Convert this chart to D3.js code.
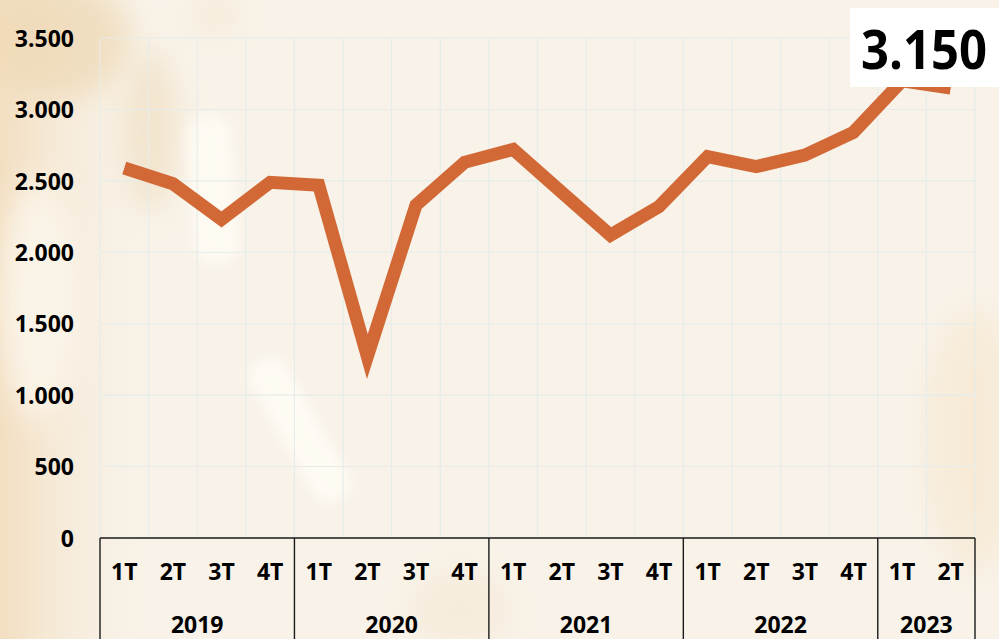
<!DOCTYPE html>
<html>
<head>
<meta charset="utf-8">
<script src="https://cdn.jsdelivr.net/npm/d3@7"></script>
<style>
  html, body { margin: 0; padding: 0; background: #f8f2e8; }
  svg { display: block; }
  text { font-family: "Open Sans", "Noto Sans", sans-serif; font-weight: 700; fill: #000; }
</style>
</head>
<body>
<div id="chart"></div>
<script>
// data
var years = ["2019", "2020", "2021", "2022", "2023"];
var quartersPerYear = [4, 4, 4, 4, 2];
var quarterNames = ["1T", "2T", "3T", "4T"];
var values = [2590, 2480, 2230, 2490, 2470, 1270, 2330, 2630, 2720, 2420,
              2120, 2320, 2670, 2600, 2680, 2840, 3200, 3150];
var yTicks = [0, 500, 1000, 1500, 2000, 2500, 3000, 3500];

var W = 999, H = 639;
var margin = {top: 38, right: 24, bottom: 101, left: 100};
var width = W - margin.left - margin.right,
    height = H - margin.top - margin.bottom;

var locale = d3.formatLocale({decimal: ",", thousands: ".", grouping: [3], currency: ["", " €"]});
var fmt = locale.format(",d");

// build category list from years / quarters
var cats = [];
years.forEach(function(y, yi) {
  for (var q = 0; q < quartersPerYear[yi]; q++) {
    cats.push({year: y, q: quarterNames[q], i: cats.length});
  }
});
var points = cats.map(function(c, i) { return {cat: c, v: values[i]}; });

var svg = d3.select("#chart").append("svg")
    .attr("width", W)
    .attr("height", H);

//// background picture (soft blurred shapes) ////
var defs = svg.append("defs");
defs.append("filter").attr("id", "blur").attr("x", "-50%").attr("y", "-50%")
    .attr("width", "200%").attr("height", "200%")
  .append("feGaussianBlur").attr("stdDeviation", 14);
defs.append("filter").attr("id", "blur2").attr("x", "-50%").attr("y", "-50%")
    .attr("width", "200%").attr("height", "200%")
  .append("feGaussianBlur").attr("stdDeviation", 6);

var lg = defs.append("linearGradient").attr("id", "leftTint")
    .attr("x1", 0).attr("x2", 1).attr("y1", 0).attr("y2", 0);
lg.append("stop").attr("offset", 0).attr("stop-color", "#f2dcbc").attr("stop-opacity", 0.9);
lg.append("stop").attr("offset", 1).attr("stop-color", "#f8f2e8").attr("stop-opacity", 0);

svg.append("rect").attr("width", W).attr("height", H).attr("fill", "#f8f2e8");
svg.append("rect").attr("width", 160).attr("height", H).attr("fill", "url(#leftTint)");

var bg = svg.append("g").attr("class", "bg");
bg.append("ellipse").attr("cx", 60).attr("cy", 40).attr("rx", 70).attr("ry", 60)
    .attr("fill", "#eed8b4").attr("opacity", 0.7).attr("filter", "url(#blur)");
bg.append("ellipse").attr("cx", 40).attr("cy", 300).attr("rx", 40).attr("ry", 120)
    .attr("fill", "#fbf5ea").attr("opacity", 0.9).attr("filter", "url(#blur)");
bg.append("ellipse").attr("cx", 150).attr("cy", 130).attr("rx", 28).attr("ry", 80)
    .attr("fill", "#f1e2c8").attr("opacity", 0.8).attr("filter", "url(#blur)");
bg.append("rect").attr("x", 190).attr("y", 115).attr("width", 45).attr("height", 150)
    .attr("rx", 20).attr("fill", "#fffcf4").attr("opacity", 0.85)
    .attr("transform", "rotate(-4,212,190)").attr("filter", "url(#blur2)");
bg.append("rect").attr("x", 280).attr("y", 350).attr("width", 40).attr("height", 160)
    .attr("rx", 18).attr("fill", "#fffcf5").attr("opacity", 0.9)
    .attr("transform", "rotate(-30,300,430)").attr("filter", "url(#blur2)");
bg.append("ellipse").attr("cx", 215).attr("cy", 15).attr("rx", 25).attr("ry", 20)
    .attr("fill", "#f3e4c8").attr("opacity", 0.4).attr("filter", "url(#blur)");
bg.append("ellipse").attr("cx", 975).attr("cy", 440).attr("rx", 50).attr("ry", 130)
    .attr("fill", "#f6e4c6").attr("opacity", 0.45).attr("filter", "url(#blur)");
bg.append("ellipse").attr("cx", 460).attr("cy", 610).attr("rx", 50).attr("ry", 40)
    .attr("fill", "#f4e4cc").attr("opacity", 0.4).attr("filter", "url(#blur)");

var g = svg.append("g")
    .attr("transform", "translate(" + margin.left + "," + margin.top + ")");

//// scales ////
var xScale = d3.scaleBand()
    .domain(cats.map(function(c) { return c.i; }))
    .range([0, width])
    .padding(0);

var yScale = d3.scaleLinear()
    .domain([0, 3500])
    .range([height, 0]);

//// grid ////
g.append("g").attr("class", "grid-y")
  .selectAll("line").data(yTicks.slice(1)).enter().append("line")
    .attr("x1", 0).attr("x2", width)
    .attr("y1", function(d) { return yScale(d); })
    .attr("y2", function(d) { return yScale(d); })
    .attr("stroke", "#e5ecea").attr("stroke-width", 1.1);

g.append("g").attr("class", "grid-x")
  .selectAll("line").data(cats.concat([{i: cats.length}])).enter().append("line")
    .attr("x1", function(d) { return d.i < cats.length ? xScale(d.i) : width; })
    .attr("x2", function(d) { return d.i < cats.length ? xScale(d.i) : width; })
    .attr("y1", 0).attr("y2", height)
    .attr("stroke", "#e5ecea").attr("stroke-width", 1.1);

//// y axis ////
var yAxis = d3.axisLeft(yScale)
    .tickValues(yTicks)
    .tickSize(0)
    .tickPadding(26)
    .tickFormat(function(d) { return fmt(d); });

var yG = g.append("g").attr("class", "y axis").call(yAxis);
yG.select(".domain").remove();
yG.selectAll("text")
    .style("font-size", "23px")
    .attr("dy", "0.36em");

//// x axis (two level: quarters + years) ////
var xAxis = d3.axisBottom(xScale)
    .tickSize(0)
    .tickPadding(26)
    .tickFormat(function(i) { return cats[i].q; });

var xG = g.append("g").attr("class", "x axis")
    .attr("transform", "translate(0," + height + ")")
    .call(xAxis);
xG.select(".domain")
    .attr("stroke", "#1a1a1a").attr("stroke-width", 1.4)
    .attr("d", "M0,0H" + width);
xG.selectAll("text")
    .style("font-size", "23px")
    .attr("dy", "0.71em");

// year groups
var yearGroups = [];
var start = 0;
years.forEach(function(y, yi) {
  yearGroups.push({year: y, first: start, last: start + quartersPerYear[yi] - 1});
  start += quartersPerYear[yi];
});

var yearG = xG.append("g").attr("class", "years");
yearG.selectAll("line.sep")
  .data(yearGroups.map(function(d) { return d.first; }).concat([cats.length]))
  .enter().append("line")
    .attr("class", "sep")
    .attr("x1", function(i) { return i < cats.length ? xScale(i) : width; })
    .attr("x2", function(i) { return i < cats.length ? xScale(i) : width; })
    .attr("y1", 0).attr("y2", 110)
    .attr("stroke", "#1a1a1a").attr("stroke-width", 1.4);

yearG.selectAll("text.year")
  .data(yearGroups).enter().append("text")
    .attr("class", "year")
    .attr("x", function(d) { return (xScale(d.first) + xScale(d.last) + xScale.bandwidth()) / 2; })
    .attr("y", 95)
    .attr("text-anchor", "middle")
    .style("font-size", "23px")
    .text(function(d) { return d.year; });

//// line ////
var line = d3.line()
    .x(function(d) { return xScale(d.cat.i) + xScale.bandwidth() / 2; })
    .y(function(d) { return yScale(d.v); });

g.append("path")
    .datum(points)
    .attr("class", "line")
    .attr("fill", "none")
    .attr("stroke", "#d16836")
    .attr("stroke-width", 13)
    .attr("stroke-linejoin", "miter")
    .attr("stroke-miterlimit", 6)
    .attr("stroke-linecap", "butt")
    .attr("d", line);

//// callout with last value ////
var lastPoint = points[points.length - 1];
var callout = svg.append("g").attr("class", "callout");
callout.append("rect")
    .attr("x", 850).attr("y", 8)
    .attr("width", 160).attr("height", 79)
    .attr("fill", "#ffffff");
callout.append("text")
    .attr("x", 924).attr("y", 69)
    .attr("text-anchor", "middle")
    .attr("textLength", 126)
    .attr("lengthAdjust", "spacingAndGlyphs")
    .style("font-size", "54px")
    .text(fmt(lastPoint.v));
</script>
</body>
</html>
